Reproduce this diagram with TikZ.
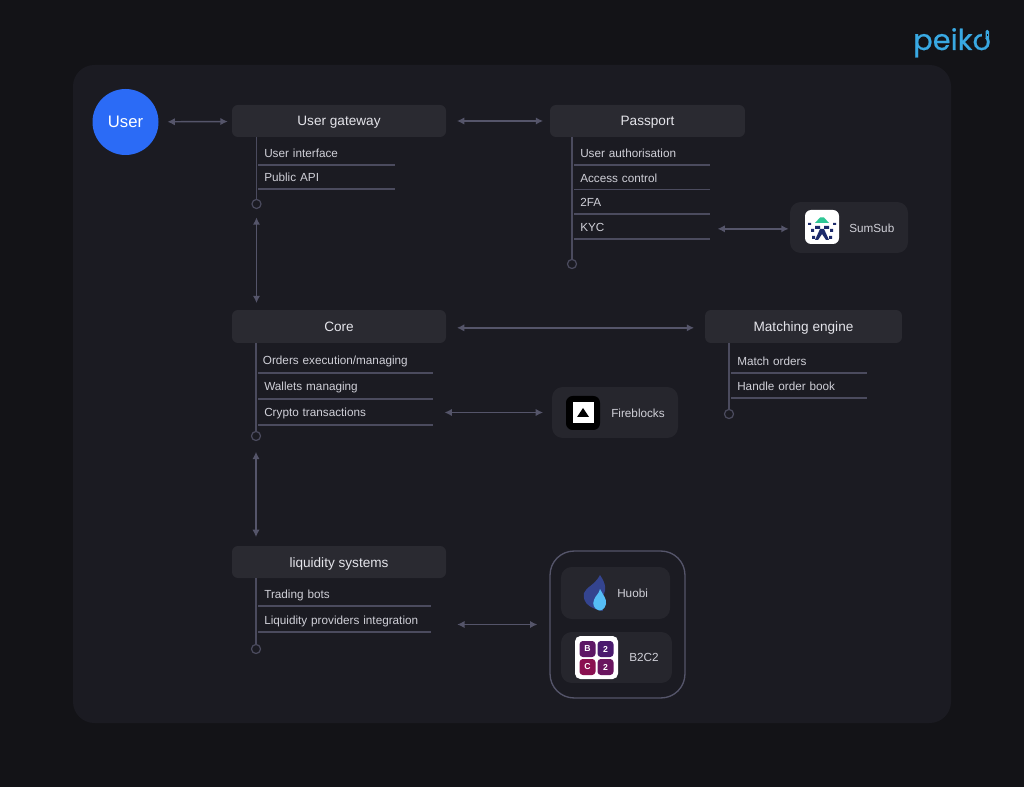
\documentclass[tikz,border=0pt]{standalone}
\usepackage{fontspec}
\setmainfont{Liberation Sans}
\newfontfamily\logofont[FakeBold=0.5]{Poppins}
\usetikzlibrary{arrows.meta}
\definecolor{bgc}{HTML}{131317}
\definecolor{panelc}{HTML}{1B1B22}
\definecolor{boxc}{HTML}{2A2A31}
\definecolor{extc}{HTML}{26262D}
\definecolor{linec}{HTML}{4B4B5E}
\definecolor{arrowc}{HTML}{55556A}
\definecolor{textc}{HTML}{E4E4EA}
\definecolor{itemc}{HTML}{D0D0D8}
\definecolor{userc}{HTML}{2B6BF6}
\definecolor{logoc}{HTML}{39A9E3}
\definecolor{sumnavy}{HTML}{1C2A6B}
\definecolor{sumgreen}{HTML}{2FC795}
\definecolor{huobia}{HTML}{34448F}
\definecolor{huobib}{HTML}{55BDF5}
\definecolor{bpurple}{HTML}{4A1A6E}
\definecolor{bred}{HTML}{8A1050}
\tikzset{
 x=0.75pt,y=-0.75pt,
 hdr/.style={fill=boxc,rounded corners=4.5pt,inner sep=0pt,text=textc,font=\fontsize{10.2}{12}\selectfont,text height=9pt,text depth=1.5pt},
 ext/.style={fill=extc,rounded corners=8pt,inner sep=0pt},
 itm/.style={anchor=south west,inner xsep=4.5pt,inner ysep=0pt,minimum height=18pt,text=itemc,font=\fontsize{8.8}{10}\selectfont,align=left,text height=8.5pt,text depth=0.8pt},
 itmx/.style={},
 rulel/.style={draw=linec,line width=1pt},
 trunk/.style={draw=linec,line width=1pt},
 enddot/.style={circle,draw=linec,line width=0.9pt,minimum size=6.8pt,inner sep=0pt},
 link/.style={draw=arrowc,line width=1.1pt,{Latex[length=5.5pt,width=5.5pt]}-{Latex[length=5.5pt,width=5.5pt]}},
 extlabel/.style={text=itemc,font=\fontsize{8.8}{10}\selectfont,inner sep=0pt},
}
\newcommand{\itembox}[5]{\node[itm,itmx,text width=#4*0.75pt-9pt] (#1) at (#2,#3) {#5};
 \draw[rulel] (#1.south west) -- (#1.south east);}
\begin{document}
\begin{tikzpicture}
\useasboundingbox (0,0) rectangle (1024,787);
\fill[bgc] (0,0) rectangle (1024,787);
\fill[panelc,rounded corners=16pt] (73,65) rectangle (951,723);

% logo
\node[text=logoc,font=\logofont\fontsize{21.6}{24}\selectfont,anchor=base west,inner sep=0pt] (logo) at (913,50) {peiko};
\fill[bgc] (982,28) rectangle (993,38);
\fill[logoc,rounded corners=1pt] (985.5,30) rectangle (989,40);
\fill[bgc] (986.7,34) rectangle (987.9,36);

% user
\node[circle,fill=userc,minimum size=49.5pt,inner sep=0pt,text=white,font=\fontsize{12.5}{14}\selectfont] (user) at (125.5,122) {User};

% headers
\node[hdr,minimum width=160.5pt,minimum height=24pt] (gateway) at (339,121) {User gateway};
\node[hdr,minimum width=146.2pt,minimum height=24pt] (passport) at (647.5,121) {Passport};
\node[hdr,minimum width=160.5pt,minimum height=24.7pt] (core) at (339,326.5) {Core};
\node[hdr,minimum width=147.7pt,minimum height=24.7pt] (matching) at (803.5,326.5) {Matching engine};
\node[hdr,minimum width=160.5pt,minimum height=24pt] (liquidity) at (339,562) {liquidity systems};

% gateway list
\itembox{g1}{258}{165}{136}{User interface}
\itembox{g2}{258}{189}{136}{Public API}
\node[enddot] (gdot) at (256.5,204) {};
\draw[trunk] (gdot) -- (gdot |- gateway.south);

% passport list
\itembox{p1}{574}{165}{135}{User authorisation}
\itembox{p2}{574}{189.5}{135}{Access control}
\itembox{p3}{574}{214}{135}{2FA}
\itembox{p4}{574}{239}{135}{KYC}
\node[enddot] (pdot) at (572,264) {};
\draw[trunk] (pdot) -- (pdot |- passport.south);

% core list
\begin{scope}[itmx/.style={text height=7.2pt,text depth=0.8pt}]
\node[itm,itmx,text width=174*0.75pt-7pt,inner xsep=3.5pt] (c1) at (258,373) {Orders execution/managing};
\draw[rulel] (c1.south west) -- (c1.south east);
\itembox{c2}{258}{399}{174}{Wallets managing}
\itembox{c3}{258}{425}{174}{Crypto transactions}
\end{scope}
\node[enddot] (cdot) at (256,436) {};
\draw[trunk] (cdot) -- (cdot |- core.south);

% matching list
\itembox{m1}{731}{373}{135}{Match orders}
\itembox{m2}{731}{398}{135}{Handle order book}
\node[enddot] (mdot) at (729,414) {};
\draw[trunk] (mdot) -- (mdot |- matching.south);

% liquidity list
\itembox{l1}{258}{606}{172}{Trading bots}
\itembox{l2}{258}{632}{172}{Liquidity providers integration}
\node[enddot] (ldot) at (256,649) {};
\draw[trunk] (ldot) -- (ldot |- liquidity.south);

% SumSub
\node[ext,minimum width=88.5pt,minimum height=38.2pt] (sumsub) at (849,227.5) {};
\fill[white,rounded corners=4.5pt] (805,210) rectangle (839,244);
\fill[sumgreen] (815,223) -- (820,217.5) -- (824,217.5) -- (829,223) -- cycle;
\fill[sumnavy] (815,226) rectangle (820,229) (824,226) rectangle (829,229);
\fill[sumnavy] (808,223) rectangle (811,225) (833,223) rectangle (836,225);
\fill[sumnavy] (820,229) -- (824,229) -- (829,240) -- (826,240) -- (822,234) -- (818,240) -- (815,240) -- cycle;
\fill[sumnavy] (811,229) rectangle (814,232) (830,229) rectangle (833,232);
\fill[sumnavy] (812,236) rectangle (815,239) (829,236) rectangle (832,239);
\node[extlabel,anchor=west] (sumsubl) at (849,228) {SumSub};

% Fireblocks
\node[ext,minimum width=94.5pt,minimum height=38.2pt] (fireblocks) at (615,412.5) {};
\fill[black,rounded corners=5pt] (566,396) rectangle (600,430);
\fill[white] (573,402) rectangle (593.5,423);
\fill[black] (583,408) -- (589,417) -- (577,417) -- cycle;
\node[extlabel,anchor=west] (fireblocksl) at (611,413) {Fireblocks};

% group
\node[draw=arrowc,line width=1pt,rounded corners=18pt,minimum width=101.2pt,minimum height=110.2pt,inner sep=0pt] (group) at (617.5,624.5) {};
\node[ext,minimum width=81.8pt,minimum height=39pt] (huobi) at (615.5,593) {};
\fill[huobia] (600,575) .. controls (606,584) and (606,589) .. (604,594)
  .. controls (599,598) and (598,604) .. (603,611)
  .. controls (592,609) and (582,604) .. (584,593)
  .. controls (586,587) and (595,585) .. (600,575) -- cycle;
\fill[huobib] (600,589) .. controls (603,595) and (607,599) .. (606,604)
  .. controls (605,609) and (601,611) .. (599,610.5)
  .. controls (594,609) and (592,604) .. (594,600)
  .. controls (595,596) and (599,594) .. (600,589) -- cycle;
\node[extlabel,anchor=west] (huobil) at (617,593) {Huobi};
\node[ext,minimum width=83.2pt,minimum height=38.2pt] (btwoc) at (616.5,657.5) {};
\fill[white,rounded corners=4pt] (575,636) rectangle (618,679);
\fill[bpurple!70!bred,rounded corners=2.5pt] (579.5,641) rectangle (595.5,657);
\fill[bpurple,rounded corners=2.5pt] (597.5,641) rectangle (613.5,657);
\fill[bred,rounded corners=2.5pt] (579.5,659) rectangle (595.5,675);
\fill[bpurple!50!bred,rounded corners=2.5pt] (597.5,659) rectangle (613.5,675);
\foreach \px/\py/\ch in {587.5/649/B,605.5/649/2,587.5/667/C,605.5/667/2}
  \node[text=white,font=\bfseries\fontsize{6.5}{7}\selectfont,inner sep=0pt] at (\px,\py) {\ch};
\node[extlabel,anchor=west] (btwocl) at (629,657.5) {B2C2};

% connectors
\draw[link,shorten <=6.5pt,shorten >=3pt] (user) -- (gateway);
\draw[link,shorten <=8pt,shorten >=5pt] (gateway) -- (passport);
\draw[link,shorten <=6pt,shorten >=0.8pt] ([yshift=-1pt]p4.east |- sumsub) -- ([yshift=-1pt]sumsub.west);
\draw[link,shorten <=6.2pt,shorten >=5pt] (gdot) -- (gdot |- core.north);
\draw[link,shorten <=8pt,shorten >=8pt] ([yshift=-1pt]core.east) -- ([yshift=-1pt]matching.west);
\draw[link,shorten <=9pt,shorten >=6.5pt] (c3.east |- fireblocks) -- (fireblocks);
\draw[link,shorten <=8pt,shorten >=6.5pt] (cdot) -- (cdot |- liquidity.north);
\draw[link,shorten <=20pt,shorten >=9pt] (l2.east |- group) -- (group);
\end{tikzpicture}
\end{document}
